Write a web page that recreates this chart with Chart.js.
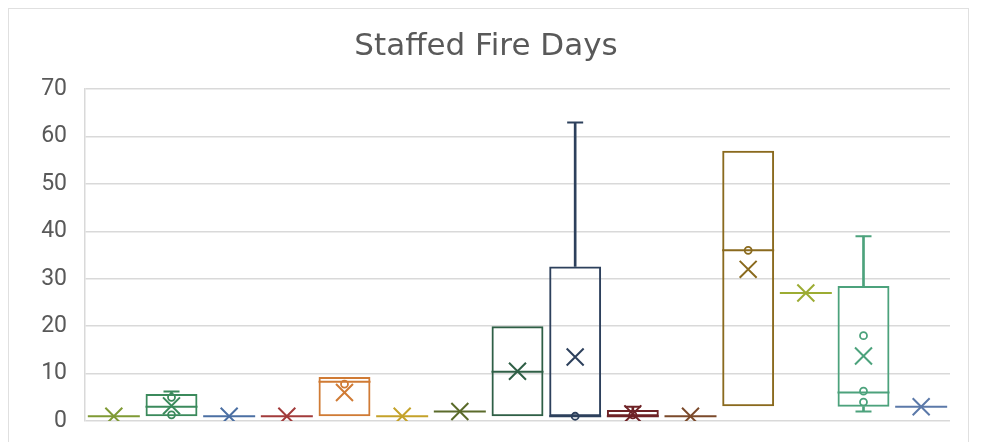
<!DOCTYPE html>
<html>
<head>
<meta charset="utf-8">
<script src="https://cdn.jsdelivr.net/npm/chart.js"></script>
<style>
  body { margin: 0; background: #fff; }
  #wrap { position: relative; width: 984px; height: 442px; }
  #frame { position: absolute; left: 8px; top: 8px; width: 959px; height: 460px; border: 1px solid #e0e0e0; pointer-events: none; }
  #chart { position: absolute; left: 0; top: 0; }
</style>
</head>
<body>
<div id="wrap">
  <div id="frame"></div>
  <canvas id="chart" width="984" height="442"></canvas>
</div>
<script>
// one box per series, left to right
const series = ['S1', 'S2', 'S3', 'S4', 'S5', 'S6', 'S7', 'S8', 'S9', 'S10', 'S11', 'S12', 'S13', 'S14', 'S15'];
const colors = ['#7f9a34', '#3b8a5c', '#4b6fa3', '#a23b3b', '#d07b35', '#c4a22a', '#5b6b2b', '#2f5f46',
                '#2d405c', '#6e2226', '#7b4a2b', '#8a6a1e', '#9cac33', '#4ca27c', '#5b79a9'];

// box edges (null = no box, everything at one value)
const q1 = [null, 1, null, null, 1, null, null, 1, 1, 1, null, 3.1, null, 3, null];
const q3 = [null, 5.7, null, null, 9.3, null, null, 20, 32.6, 2.3, null, 57, null, 28.5, null];
const medians = [1, 3, 1, 1, 8.3, 1, 2, 10.4, 1, 1, 1, 36, 27, 6, 3];
const means = [1, 3.2, 1, 1, 6, 1, 2, 10.5, 13.5, 1.5, 1, 32, 27, 13.7, 3];
const whiskerTop = [null, 6.2, null, null, null, null, null, null, 63, 3, null, null, null, 39, null];
const whiskerBottom = [null, null, null, null, null, null, null, null, null, null, null, null, null, 2, null];
const innerPoints = [[], [5, 1.3], [], [], [7.8], [], [], [], [1], [1.3], [], [36], [], [18, 6.3, 4], []];

const byLabel = ctx => colors[series.indexOf(ctx.raw.x)];

const boxes = series.map((s, i) => q1[i] == null ? null : [q1[i], q3[i]]);
const upper = series.map((s, i) => whiskerTop[i] == null ? null : [q3[i], whiskerTop[i]]);
const lower = series.map((s, i) => whiskerBottom[i] == null ? null : [whiskerBottom[i], q1[i]]);

const caps = [];
series.forEach((s, i) => {
    if (whiskerTop[i] != null) caps.push({ x: s, y: whiskerTop[i] });
    if (whiskerBottom[i] != null) caps.push({ x: s, y: whiskerBottom[i] });
});
const dots = [];
innerPoints.forEach((pts, i) => pts.forEach(v => dots.push({ x: series[i], y: v })));

const ctx = document.getElementById('chart').getContext('2d');
new Chart(ctx, {
    type: 'bar',
    data: {
        labels: series,
        datasets: [
            {
                label: 'box',
                data: boxes,
                backgroundColor: 'rgba(0,0,0,0)',
                borderColor: colors,
                borderWidth: 2,
                borderSkipped: false,
                grouped: false,
                barPercentage: 0.9,
                categoryPercentage: 1
            },
            {
                label: 'upper whisker',
                data: upper,
                backgroundColor: colors,
                barThickness: 2,
                grouped: false
            },
            {
                label: 'lower whisker',
                data: lower,
                backgroundColor: colors,
                barThickness: 2,
                grouped: false
            },
            {
                type: 'line',
                label: 'median',
                data: medians,
                showLine: false,
                pointStyle: 'line',
                pointRadius: 26,
                pointBorderWidth: 2,
                pointBorderColor: colors
            },
            {
                type: 'line',
                label: 'caps',
                data: caps,
                showLine: false,
                pointStyle: 'line',
                pointRadius: 8,
                pointBorderWidth: 2,
                pointBorderColor: byLabel
            },
            {
                type: 'line',
                label: 'mean',
                data: means,
                showLine: false,
                pointStyle: 'crossRot',
                pointRadius: 12,
                pointBorderWidth: 2,
                pointBorderColor: colors
            },
            {
                type: 'line',
                label: 'points',
                data: dots,
                showLine: false,
                pointStyle: 'circle',
                pointRadius: 3.5,
                pointBorderWidth: 1.8,
                pointBackgroundColor: 'rgba(0,0,0,0)',
                pointBorderColor: byLabel
            }
        ]
    },
    options: {
        responsive: false,
        animation: false,
        events: [],
        layout: { autoPadding: false, padding: { left: 22, right: 34, bottom: 21, top: 0 } },
        plugins: {
            legend: { display: false },
            tooltip: { enabled: false },
            title: {
                display: true,
                text: 'Staffed Fire Days',
                color: '#595959',
                font: { family: 'DejaVu Sans', size: 31, weight: 'normal' },
                padding: { top: 28, bottom: 24 }
            }
        },
        scales: {
            x: { display: false, offset: true },
            y: {
                min: 0,
                max: 70,
                ticks: { stepSize: 10, color: '#595959', font: { family: 'Roboto', size: 23 }, padding: 3 },
                grid: { color: '#d9d9d9', lineWidth: 1.5, drawTicks: true, tickLength: 15, tickColor: 'rgba(0,0,0,0)' },
                border: { color: '#d9d9d9', width: 1.5 },
                afterFit: s => {
                    s.width = 63;
                    s.paddingTop = 0;
                    s.paddingBottom = 0;
                }
            }
        }
    }
});
</script>
</body>
</html>
